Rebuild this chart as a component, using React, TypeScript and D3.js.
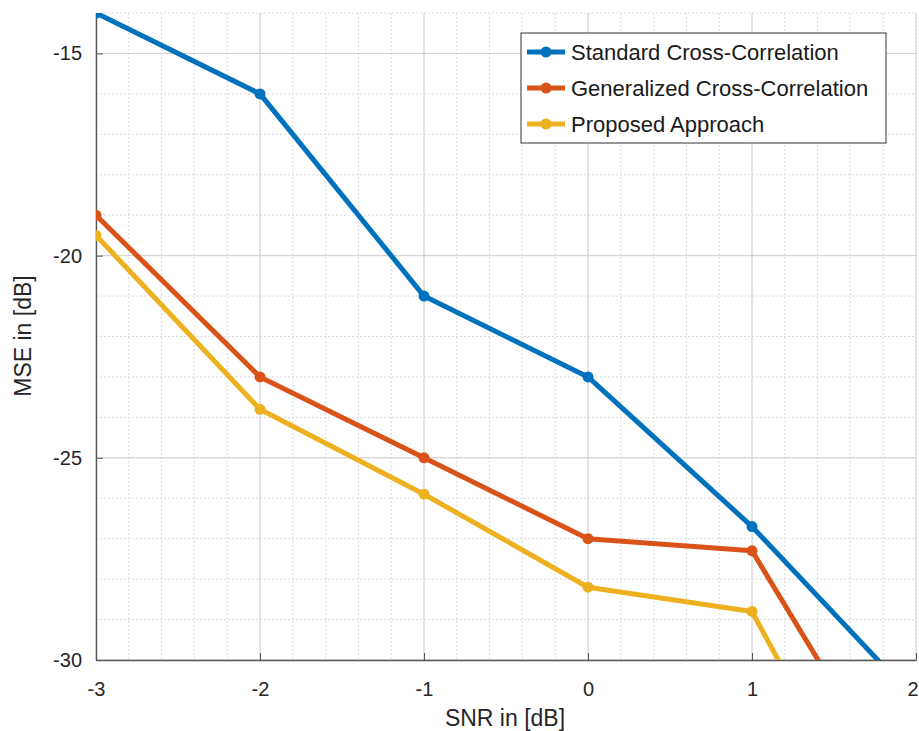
import React, { useEffect, useRef } from "react";
import * as d3 from "d3";

// SNR points (dB)
const snr = [-3, -2, -1, 0, 1, 2];
const standardCC = [-14, -16, -21, -23, -26.7, -31];
const generalizedCC = [-19, -23, -25, -27, -27.3, -34];
const proposed = [-19.5, -23.8, -25.9, -28.2, -28.8, -36.3];

const seriesNames = ["Standard Cross-Correlation", "Generalized Cross-Correlation", "Proposed Approach"];
const seriesColors = ["#0072BD", "#D95319", "#EDB120"];
const xTicks = [-3, -2, -1, 0, 1, 2];
const yTicks = [-30, -25, -20, -15];

export default function App() {
  const ref = useRef<SVGSVGElement>(null);

  useEffect(() => {
    const svg = d3.select(ref.current);
    svg.selectAll("*").remove();
    const W = 919, H = 731;
    const margin = { top: 13, right: 3, bottom: 71, left: 96 };
    const width = W - margin.left - margin.right;
    const height = H - margin.top - margin.bottom;
    const font = "Helvetica, 'Liberation Sans', Arial, sans-serif";

    const x = d3.scaleLinear().domain([-3, 2]).range([0, width]);
    const y = d3.scaleLinear().domain([-30, -14]).range([height, 0]);

    const g = svg.append("g").attr("transform", `translate(${margin.left},${margin.top})`);

    g.append("defs").append("clipPath").attr("id", "plotclip")
      .append("rect").attr("width", width).attr("height", height);

    // minor grid
    const minorX = d3.range(-3, 2.001, 0.2);
    const minorY = d3.range(-30, -13.999, 1);
    g.append("g").selectAll("line").data(minorX).enter().append("line")
      .attr("x1", d => x(d)).attr("x2", d => x(d)).attr("y1", 0).attr("y2", height)
      .attr("stroke", "#dcdcdc").attr("stroke-width", 1).attr("stroke-dasharray", "2,2");
    g.append("g").selectAll("line").data(minorY).enter().append("line")
      .attr("y1", d => y(d)).attr("y2", d => y(d)).attr("x1", 0).attr("x2", width)
      .attr("stroke", "#dcdcdc").attr("stroke-width", 1).attr("stroke-dasharray", "2,2");

    // major grid
    g.append("g").selectAll("line").data(xTicks).enter().append("line")
      .attr("x1", d => x(d)).attr("x2", d => x(d)).attr("y1", 0).attr("y2", height)
      .attr("stroke", "#d0d0d0").attr("stroke-width", 1);
    g.append("g").selectAll("line").data(yTicks).enter().append("line")
      .attr("y1", d => y(d)).attr("y2", d => y(d)).attr("x1", 0).attr("x2", width)
      .attr("stroke", "#d0d0d0").attr("stroke-width", 1);

    // axes (plain hyphen minus, like the original)
    const fmt = (d: d3.NumberValue) => String(d);
    const xAxis = g.append("g").attr("transform", `translate(0,${height})`)
      .call(d3.axisBottom(x).tickValues(xTicks).tickSizeInner(-7).tickSizeOuter(0).tickPadding(22).tickFormat(fmt));
    const yAxis = g.append("g")
      .call(d3.axisLeft(y).tickValues(yTicks).tickSizeInner(-7).tickSizeOuter(0).tickPadding(14).tickFormat(fmt));
    [xAxis, yAxis].forEach(a => {
      a.select(".domain").attr("stroke", "#555").attr("stroke-width", 1.3);
      a.selectAll(".tick line").attr("stroke", "#555");
      a.selectAll(".tick text").attr("fill", "#262626").attr("font-size", 20).attr("font-family", font);
    });
    // last x label sits at the right edge; keep it fully visible
    xAxis.selectAll(".tick text").filter((d: any) => d === 2).attr("text-anchor", "end").attr("dx", 2);

    // lines
    const all = [standardCC, generalizedCC, proposed];
    const line = d3.line<number>().x((_, i) => x(snr[i])).y(d => y(d));
    const plot = g.append("g").attr("clip-path", "url(#plotclip)");
    all.forEach((vals, k) => {
      plot.append("path").datum(vals).attr("d", line)
        .attr("fill", "none").attr("stroke", seriesColors[k]).attr("stroke-width", 5)
        .attr("stroke-linejoin", "round");
      plot.selectAll(null).data(vals).enter().append("circle")
        .attr("cx", (_, i) => x(snr[i])).attr("cy", d => y(d)).attr("r", 5.5)
        .attr("fill", seriesColors[k]);
    });

    // axis labels
    svg.append("text").attr("x", 505).attr("y", 726)
      .attr("text-anchor", "middle").attr("font-size", 23).attr("font-family", font).attr("fill", "#262626")
      .text("SNR in [dB]");
    svg.append("text").attr("transform", `translate(31,${336}) rotate(-90)`)
      .attr("text-anchor", "middle").attr("font-size", 23).attr("font-family", font).attr("fill", "#262626")
      .text("MSE in [dB]");

    // legend
    const lg = svg.append("g").attr("transform", "translate(521,33)");
    lg.append("rect").attr("width", 365).attr("height", 110)
      .attr("fill", "white").attr("stroke", "#333").attr("stroke-width", 1);
    seriesNames.forEach((name, i) => {
      const yy = 19 + i * 36;
      lg.append("line").attr("x1", 6).attr("x2", 44).attr("y1", yy).attr("y2", yy)
        .attr("stroke", seriesColors[i]).attr("stroke-width", 5);
      lg.append("circle").attr("cx", 25).attr("cy", yy).attr("r", 5.5).attr("fill", seriesColors[i]);
      lg.append("text").attr("x", 50).attr("y", yy).attr("dy", "0.35em")
        .attr("font-size", 22).attr("font-family", font).attr("fill", "#1a1a1a").text(name);
    });
  }, []);

  return (
    <svg ref={ref} width={919} height={731} style={{ position: "absolute", left: 0, top: 0 }} />
  );
}
